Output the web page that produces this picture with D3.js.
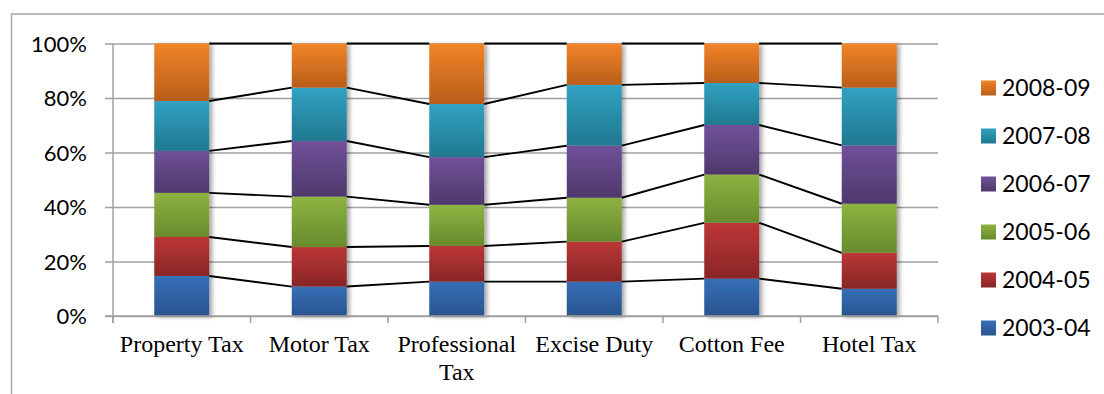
<!DOCTYPE html>
<html>
<head>
<meta charset="utf-8">
<script src="https://cdn.jsdelivr.net/npm/d3@7"></script>
<style>
  html, body { margin: 0; padding: 0; background: #fff; }
  svg { display: block; }
</style>
</head>
<body>
<svg id="chart" width="1104" height="394"></svg>
<script>
// Revenue categories (x axis)
const categories = ["Property Tax", "Motor Tax", "Professional Tax", "Excise Duty", "Cotton Fee", "Hotel Tax"];
// Years, bottom of stack first
const years = ["2003-04", "2004-05", "2005-06", "2006-07", "2007-08", "2008-09"];
// Share of each year within a category (percent)
const v2003 = [14.7, 10.8, 12.6, 12.6, 13.7, 10.0];
const v2004 = [14.3, 14.5, 13.1, 14.7, 20.5, 13.2];
const v2005 = [16.2, 18.5, 15.1, 16.1, 17.7, 18.0];
const v2006 = [15.4, 20.4, 17.5, 19.1, 18.2, 21.4];
const v2007 = [18.3, 19.6, 19.5, 22.3, 15.4, 21.2];
const v2008 = [21.1, 16.2, 22.2, 15.2, 14.5, 16.2];
const yTicks = [0, 0.2, 0.4, 0.6, 0.8, 1.0];
// Gradient stops per year: [top, bottom]
const yearColors = [
  ["#366fb7", "#29548f"],
  ["#bc3636", "#882626"],
  ["#8eb341", "#678a2d"],
  ["#70519a", "#4e386b"],
  ["#31a2c2", "#207890"],
  ["#f18427", "#b85e1b"]
];

const seriesValues = [v2003, v2004, v2005, v2006, v2007, v2008];
const rows = categories.map((c, i) => {
  const r = { category: c };
  years.forEach((y, k) => { r[y] = seriesValues[k][i]; });
  return r;
});
const stacked = d3.stack().keys(years).offset(d3.stackOffsetExpand)(rows);

const svg = d3.select("#chart");
const plot = { left: 113, right: 938, top: 43.5, bottom: 316 };

const x = d3.scaleBand().domain(categories).range([plot.left, plot.right]).paddingInner(0.6).paddingOuter(0.3);
const xOuter = d3.scaleBand().domain(categories).range([plot.left, plot.right]);
const y = d3.scaleLinear().domain([0, 1]).range([plot.bottom, plot.top]);

const defs = svg.append("defs");
yearColors.forEach((c, k) => {
  const g = defs.append("linearGradient").attr("id", "grad" + k).attr("x1", 0).attr("y1", 0).attr("x2", 0).attr("y2", 1);
  g.append("stop").attr("offset", "0%").attr("stop-color", c[0]);
  g.append("stop").attr("offset", "100%").attr("stop-color", c[1]);
});
const shadow = defs.append("filter").attr("id", "shadow").attr("x", "-20%").attr("y", "-5%").attr("width", "150%").attr("height", "110%");
shadow.append("feGaussianBlur").attr("in", "SourceAlpha").attr("stdDeviation", 2.2).attr("result", "b");
shadow.append("feOffset").attr("in", "b").attr("dx", 2.5).attr("dy", 1).attr("result", "o");
shadow.append("feComponentTransfer").attr("in", "o").attr("result", "s")
  .append("feFuncA").attr("type", "linear").attr("slope", 0.35);
const merge = shadow.append("feMerge");
merge.append("feMergeNode").attr("in", "s");
merge.append("feMergeNode").attr("in", "SourceGraphic");

// Chart frame
svg.append("path")
  .attr("d", "M11.5,394 L11.5,14 L1104,14")
  .attr("fill", "none").attr("stroke", "#a6a6a6").attr("stroke-width", 1.5);

// Gridlines
const grid = svg.append("g").attr("transform", `translate(${plot.left},0)`)
  .call(d3.axisLeft(y).tickValues(yTicks).tickSize(-(plot.right - plot.left)).tickFormat(""));
grid.selectAll(".tick line").attr("stroke", "#a0a0a0").attr("stroke-width", 1.5);
grid.select(".domain").remove();

// Y axis
const yAxis = svg.append("g").attr("transform", `translate(${plot.left},0)`)
  .call(d3.axisLeft(y).tickValues(yTicks).tickSize(8).tickPadding(18).tickFormat(d3.format(".0%")));
yAxis.select(".domain").attr("stroke", "#a0a0a0").attr("stroke-width", 1.5).attr("d", `M0,${plot.top}V${plot.bottom + 7}`);
yAxis.selectAll(".tick line").attr("stroke", "#a0a0a0").attr("stroke-width", 1.5);
yAxis.selectAll(".tick text").attr("font-family", "Lato, 'Open Sans', sans-serif").attr("font-size", 22).attr("fill", "#000").attr("dy", "0.36em");

// Bars
const barG = svg.append("g").attr("filter", "url(#shadow)");
stacked.forEach((s, k) => {
  barG.selectAll(null).data(s).enter().append("rect")
    .attr("x", d => x(d.data.category))
    .attr("width", x.bandwidth())
    .attr("y", d => y(d[1]))
    .attr("height", d => y(d[0]) - y(d[1]))
    .attr("fill", `url(#grad${k})`);
});

// Series lines between adjacent bars
const lineG = svg.append("g");
stacked.forEach(s => {
  for (let i = 0; i < s.length - 1; i++) {
    const a = s[i], b = s[i + 1];
    lineG.append("line")
      .attr("x1", x(a.data.category) + x.bandwidth())
      .attr("x2", x(b.data.category))
      .attr("y1", y(a[1])).attr("y2", y(b[1]))
      .attr("stroke", "#000").attr("stroke-width", 1.9);
  }
});

// X axis with category boundary ticks
const xAxisG = svg.append("g").attr("transform", `translate(0,${plot.bottom})`);
xAxisG.append("line").attr("x1", plot.left - 8).attr("x2", plot.right).attr("y1", 0).attr("y2", 0)
  .attr("stroke", "#a0a0a0").attr("stroke-width", 1.5);
const bounds = categories.map(c => xOuter(c)).concat([plot.right]);
xAxisG.selectAll(".bt").data(bounds).enter().append("line")
  .attr("x1", d => d).attr("x2", d => d).attr("y1", 0).attr("y2", 7)
  .attr("stroke", "#a0a0a0").attr("stroke-width", 1.5);

// Category labels, wrapped where they do not fit the band
const maxW = xOuter.bandwidth() - 4;
categories.forEach(c => {
  const t = xAxisG.append("text")
    .attr("x", x(c) + x.bandwidth() / 2)
    .attr("y", 36)
    .attr("text-anchor", "middle")
    .attr("font-family", "'Liberation Serif', 'Times New Roman', serif")
    .attr("font-size", 24)
    .attr("fill", "#000")
    .text(c);
  if (t.node().getComputedTextLength() > maxW) {
    const words = c.split(" ");
    t.text(null);
    words.forEach((w, i) => {
      t.append("tspan").attr("x", x(c) + x.bandwidth() / 2).attr("dy", i === 0 ? 0 : 28).text(w);
    });
  }
});

// Legend, newest year at top
const legend = svg.append("g").attr("transform", "translate(981,88)");
const legendYears = years.slice().reverse();
legendYears.forEach((yr, i) => {
  const k = years.indexOf(yr);
  const g = legend.append("g").attr("transform", `translate(0,${i * 48})`);
  g.append("rect").attr("x", 0).attr("y", -7.5).attr("width", 15).attr("height", 15).attr("fill", `url(#grad${k})`);
  g.append("text").attr("x", 21).attr("y", 0).attr("dy", "0.36em")
    .attr("font-family", "Lato, 'Open Sans', sans-serif").attr("font-size", 23).attr("fill", "#000")
    .text(yr);
});
</script>
</body>
</html>
